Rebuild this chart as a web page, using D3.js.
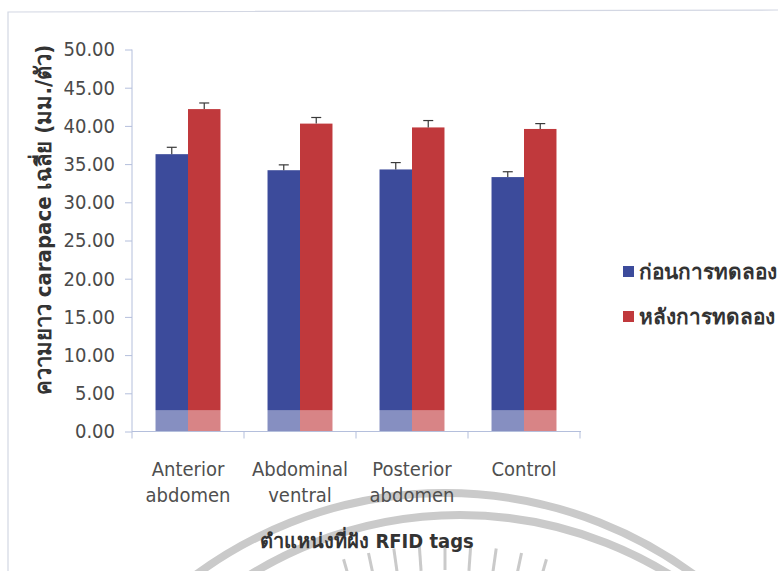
<!DOCTYPE html>
<html>
<head>
<meta charset="utf-8">
<script src="https://cdn.jsdelivr.net/npm/d3@7"></script>
<style>
  html, body { margin: 0; padding: 0; background: #fff; }
  svg { display: block; }
</style>
</head>
<body>
<svg id="chart" width="778" height="571"></svg>
<script>
// ---- data ----
const categories = [["Anterior", "abdomen"], ["Abdominal", "ventral"], ["Posterior", "abdomen"], ["Control"]];
const seriesNames = ["ก่อนการทดลอง", "หลังการทดลอง"];
const beforeValues = [36.3, 34.2, 34.3, 33.3];
const afterValues = [42.2, 40.3, 39.8, 39.6];
const beforeErrors = [0.9, 0.7, 0.9, 0.7];
const afterErrors = [0.8, 0.8, 0.9, 0.7];
const yTicks = [0, 5, 10, 15, 20, 25, 30, 35, 40, 45, 50];
const yTitle = "ความยาว carapace เฉลี่ย (มม./ตัว)";
const xTitle = "ตำแหน่งที่ฝัง RFID tags";

const colors = ["#3c4b9b", "#c0393c"];
const font = "'DejaVu Sans Condensed', Tahoma, 'DejaVu Sans', 'Noto Sans', sans-serif";

const svg = d3.select("#chart");
const W = 778, H = 571;
const plot = { left: 132, right: 580, top: 49.5, bottom: 431.5 };

// ---- background watermark (scan seal) ----
const wm = svg.append("g").attr("fill", "none").attr("stroke", "#cacaca");
wm.append("circle").attr("cx", 445).attr("cy", 913).attr("r", 420).attr("stroke-width", 8);
wm.append("circle").attr("cx", 460).attr("cy", 913).attr("r", 398).attr("stroke-width", 8);
d3.range(-16, 17, 4).forEach(a => {
  const t = a * Math.PI / 180;
  wm.append("line")
    .attr("x1", 445 + 343 * Math.sin(t)).attr("y1", 913 - 343 * Math.cos(t))
    .attr("x2", 445 + 368 * Math.sin(t)).attr("y2", 913 - 368 * Math.cos(t))
    .attr("stroke-width", 3);
});

// ---- frame ----
svg.append("path")
  .attr("d", `M8,${H + 2} L8,12 L${W + 2},10`)
  .attr("fill", "none").attr("stroke", "#d3d7e3").attr("stroke-width", 1.2);

// ---- scales ----
const catKeys = categories.map(c => c.join(" "));
const x0 = d3.scaleBand().domain(catKeys).range([plot.left, plot.right]).paddingInner(0.42).paddingOuter(0.21);
const x1 = d3.scaleBand().domain([0, 1]).range([0, x0.bandwidth()]);
const y = d3.scaleLinear().domain([0, 50]).range([plot.bottom, plot.top]);

// ---- bars ----
const seriesVals = [beforeValues, afterValues];
const seriesErr = [beforeErrors, afterErrors];
const g = svg.append("g");
catKeys.forEach((k, i) => {
  [0, 1].forEach(s => {
    const v = seriesVals[s][i];
    const bx = x0(k) + x1(s);
    g.append("rect")
      .attr("x", bx).attr("y", y(v))
      .attr("width", x1.bandwidth()).attr("height", y(0) - y(v))
      .attr("fill", colors[s]);
    const cx = bx + x1.bandwidth() / 2;
    const top = y(v + seriesErr[s][i]);
    g.append("line").attr("x1", cx).attr("x2", cx).attr("y1", y(v)).attr("y2", top)
      .attr("stroke", "#3a3a3a").attr("stroke-width", 1.2);
    g.append("line").attr("x1", cx - 5).attr("x2", cx + 5).attr("y1", top).attr("y2", top)
      .attr("stroke", "#3a3a3a").attr("stroke-width", 1.2);
  });
});
// light scan band along the bottom
svg.append("rect")
  .attr("x", plot.left).attr("y", y(2.8))
  .attr("width", plot.right - plot.left).attr("height", y(0) - y(2.8))
  .attr("fill", "#ffffff").attr("opacity", 0.38);

// ---- axes ----
const axisColor = "#b4bfdc";
const yAxis = svg.append("g").attr("transform", `translate(${plot.left},0)`)
  .call(d3.axisLeft(y).tickValues(yTicks).tickFormat(d3.format(".2f")).tickSize(7).tickPadding(10));
yAxis.select(".domain").attr("stroke", axisColor).attr("d", `M0,${plot.top}V${plot.bottom}`);
yAxis.selectAll(".tick line").attr("stroke", axisColor);
yAxis.selectAll(".tick text").attr("fill", "#4a4a4a").style("font-family", font).style("font-size", "20px");

const xAxis = svg.append("g").attr("transform", `translate(0,${plot.bottom})`);
xAxis.append("line").attr("x1", plot.left).attr("x2", plot.right + 1).attr("y1", 0).attr("y2", 0)
  .attr("stroke", axisColor);
const step = x0.step();
d3.range(catKeys.length + 1).forEach(i => {
  const tx = plot.left + i * step;
  xAxis.append("line").attr("x1", tx).attr("x2", tx).attr("y1", 0).attr("y2", 7).attr("stroke", axisColor);
});
catKeys.forEach((k, i) => {
  const t = xAxis.append("text")
    .attr("x", x0(k) + x0.bandwidth() / 2).attr("y", 44)
    .attr("text-anchor", "middle").attr("fill", "#4f4f4f")
    .style("font-family", font).style("font-size", "20px");
  categories[i].forEach((line, j) => {
    t.append("tspan").attr("x", x0(k) + x0.bandwidth() / 2).attr("dy", j === 0 ? 0 : 26).text(line);
  });
});

// ---- titles ----
svg.append("text")
  .attr("transform", `translate(43,220) rotate(-90)`)
  .attr("text-anchor", "middle").attr("dominant-baseline", "central")
  .attr("fill", "#333333").style("font-family", font).style("font-size", "22px").style("font-weight", "bold")
  .text(yTitle);
svg.append("text")
  .attr("x", 367).attr("y", 548).attr("text-anchor", "middle")
  .attr("fill", "#333333").style("font-family", font).style("font-size", "20px").style("font-weight", "bold")
  .text(xTitle);

// ---- legend ----
const legend = svg.append("g");
seriesNames.forEach((name, i) => {
  const ly = 272 + i * 45;
  legend.append("rect").attr("x", 623).attr("y", ly - 6).attr("width", 11).attr("height", 11).attr("fill", colors[i]);
  legend.append("text").attr("x", 639).attr("y", ly).attr("dominant-baseline", "central")
    .attr("fill", "#333333").style("font-family", font).style("font-size", "20.8px").style("font-weight", "bold")
    .text(name);
});
</script>
</body>
</html>
